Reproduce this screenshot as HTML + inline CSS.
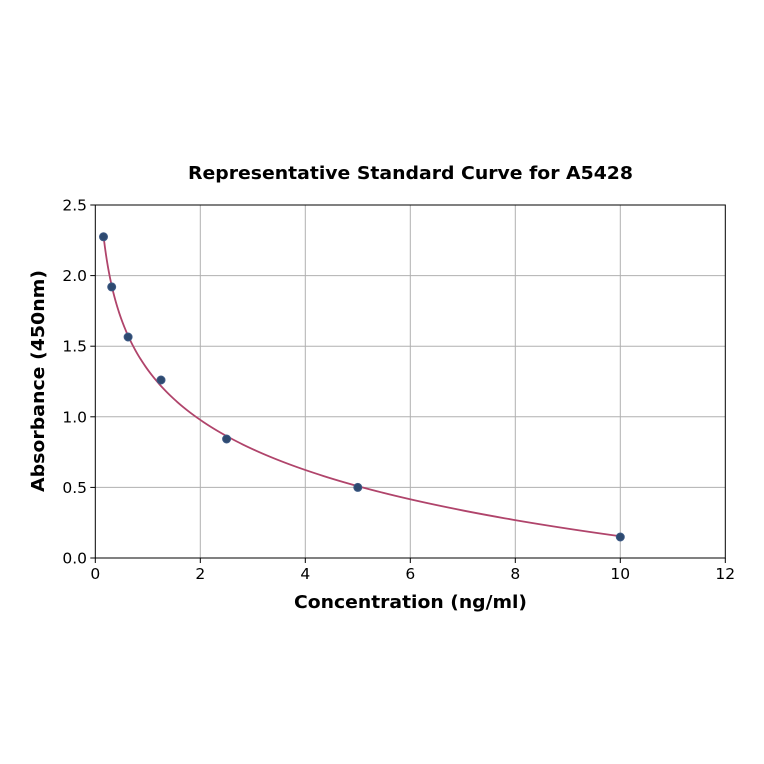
<!DOCTYPE html>
<html><head><meta charset="utf-8"><style>
html,body{margin:0;padding:0;background:#fff;}
svg{display:block;}
text{font-family:"DejaVu Sans","Liberation Sans",sans-serif;fill:#000;}
</style></head><body>
<svg id="s" width="764" height="764" viewBox="0 0 764 764" xmlns="http://www.w3.org/2000/svg">
<rect width="764" height="764" fill="#fff"/>
<g stroke="#b0b0b0" stroke-width="1">
<line x1="200.3" y1="205" x2="200.3" y2="558"/>
<line x1="305.3" y1="205" x2="305.3" y2="558"/>
<line x1="410.3" y1="205" x2="410.3" y2="558"/>
<line x1="515.3" y1="205" x2="515.3" y2="558"/>
<line x1="620.3" y1="205" x2="620.3" y2="558"/>
<line x1="95.3" y1="487.4" x2="725.3" y2="487.4"/>
<line x1="95.3" y1="416.8" x2="725.3" y2="416.8"/>
<line x1="95.3" y1="346.2" x2="725.3" y2="346.2"/>
<line x1="95.3" y1="275.6" x2="725.3" y2="275.6"/>
</g>
<path id="curve" fill="none" stroke="#b0446b" stroke-width="1.8"/>
<g fill="#2e4a70" stroke="#3d5a85" stroke-width="1">
<circle cx="103.5" cy="236.8" r="4"/>
<circle cx="111.7" cy="286.9" r="4"/>
<circle cx="128.1" cy="337" r="4"/>
<circle cx="161" cy="380" r="4"/>
<circle cx="226.6" cy="439" r="4"/>
<circle cx="357.8" cy="487.4" r="4"/>
<circle cx="620.3" cy="537" r="4"/>
</g>
<rect x="95.3" y="205" width="630" height="353" fill="none" stroke="#000" stroke-width="1"/>
<g stroke="#000" stroke-width="1">
<line x1="95.3" y1="558" x2="95.3" y2="563"/>
<line x1="200.3" y1="558" x2="200.3" y2="563"/>
<line x1="305.3" y1="558" x2="305.3" y2="563"/>
<line x1="410.3" y1="558" x2="410.3" y2="563"/>
<line x1="515.3" y1="558" x2="515.3" y2="563"/>
<line x1="620.3" y1="558" x2="620.3" y2="563"/>
<line x1="725.3" y1="558" x2="725.3" y2="563"/>
<line x1="90.3" y1="558" x2="95.3" y2="558"/>
<line x1="90.3" y1="487.4" x2="95.3" y2="487.4"/>
<line x1="90.3" y1="416.8" x2="95.3" y2="416.8"/>
<line x1="90.3" y1="346.2" x2="95.3" y2="346.2"/>
<line x1="90.3" y1="275.6" x2="95.3" y2="275.6"/>
<line x1="90.3" y1="205" x2="95.3" y2="205"/>
</g>
<g font-size="15.5" text-anchor="middle">
<text x="95.3" y="579">0</text>
<text x="200.3" y="579">2</text>
<text x="305.3" y="579">4</text>
<text x="410.3" y="579">6</text>
<text x="515.3" y="579">8</text>
<text x="620.3" y="579">10</text>
<text x="725.3" y="579">12</text>
</g>
<g font-size="15.5" text-anchor="end">
<text x="87" y="563.5">0.0</text>
<text x="87" y="492.9">0.5</text>
<text x="87" y="422.3">1.0</text>
<text x="87" y="351.7">1.5</text>
<text x="87" y="281.1">2.0</text>
<text x="87" y="210.5">2.5</text>
</g>
<text x="410.5" y="179" font-size="17.5" font-weight="bold" text-anchor="middle" textLength="445" lengthAdjust="spacingAndGlyphs">Representative Standard Curve for A5428</text>
<text x="410.5" y="608" font-size="17.5" font-weight="bold" text-anchor="middle" textLength="233" lengthAdjust="spacingAndGlyphs">Concentration (ng/ml)</text>
<text transform="translate(44,381) rotate(-90)" font-size="17.5" font-weight="bold" text-anchor="middle" textLength="222" lengthAdjust="spacingAndGlyphs">Absorbance (450nm)</text>
</svg>
<script>
(function(){
 var A=1.333,B=0.512,d="";
 var x0=0.156,x1=10,n=200;
 for(var i=0;i<=n;i++){
  var lx=Math.log(x0)+(Math.log(x1)-Math.log(x0))*i/n;
  var x=Math.exp(lx);
  var y=A-B*lx;
  var px=95.3+x*52.5, py=558-y*141.2;
  d+=(i?"L":"M")+px.toFixed(2)+" "+py.toFixed(2);
 }
 document.getElementById("curve").setAttribute("d",d);
})();
</script>
</body></html>
